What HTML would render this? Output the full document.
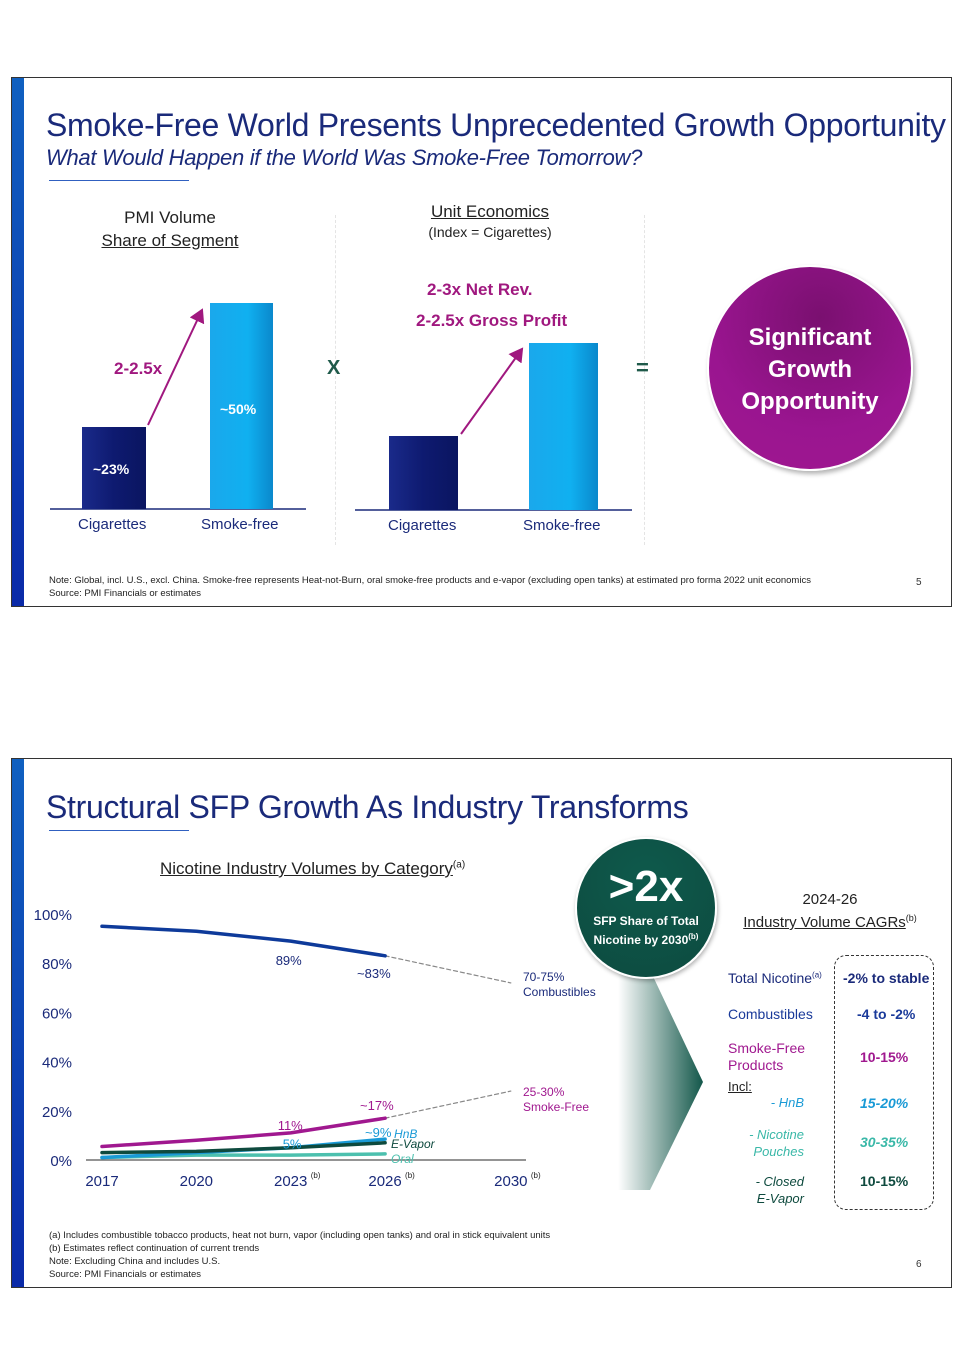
<!DOCTYPE html>
<html><head><meta charset="utf-8">
<style>
body{margin:0;width:965px;height:1365px;background:#fff;position:relative;font-family:"Liberation Sans",sans-serif;overflow:hidden}
.a{position:absolute;white-space:nowrap}
.slide{position:absolute;left:11px;width:941px;border:1px solid #333;background:#fff;box-sizing:border-box}
.stripe{position:absolute;left:0;top:0;bottom:0;width:12px;background:linear-gradient(#1060c0,#0a2aa8)}
.c{text-align:center}
</style></head><body>

<!-- Slide 1 -->
<div class="slide" style="top:77px;height:530px">
<div class="stripe"></div>
</div>
<div class="a" style="left:46px;top:107px;font-size:32px;color:#1a2a7a;letter-spacing:-0.3px">Smoke-Free World Presents Unprecedented Growth Opportunity</div>
<div class="a" style="left:46px;top:145px;font-size:22px;color:#1a2a7a;font-style:italic;letter-spacing:-0.3px">What Would Happen if the World Was Smoke-Free Tomorrow?</div>
<div class="a" style="left:49px;top:180px;width:140px;height:1px;background:#3060c0"></div>

<div class="a c" style="left:70px;top:206px;width:200px;font-size:17px;color:#222;line-height:23px">PMI Volume<br><u>Share of Segment</u></div>
<div class="a c" style="left:390px;top:202px;width:200px;font-size:17px;color:#222;line-height:20px"><u>Unit Economics</u><br><span style="font-size:14px">(Index = Cigarettes)</span></div>

<div class="a" style="left:335px;top:215px;height:330px;border-left:1px dashed #e4e4e4"></div>
<div class="a" style="left:644px;top:215px;height:330px;border-left:1px dashed #e4e4e4"></div>

<svg class="a" style="left:0;top:0" width="965" height="620">
<defs>
<linearGradient id="dk" x1="0" x2="1"><stop offset="0" stop-color="#1a2a8a"/><stop offset="0.5" stop-color="#0e1a70"/><stop offset="1" stop-color="#0a1560"/></linearGradient>
<linearGradient id="lt" x1="0" x2="1"><stop offset="0" stop-color="#1aa8ec"/><stop offset="0.6" stop-color="#10b0f0"/><stop offset="1" stop-color="#0a88cc"/></linearGradient>
<marker id="ah" markerWidth="8" markerHeight="8" refX="6" refY="4" orient="auto"><path d="M0,0 L7,4 L0,8 Z" fill="#a0187f"/></marker>
</defs>
<line x1="50" y1="509" x2="306" y2="509" stroke="#1a2a7a" stroke-width="1.5"/>
<rect x="82" y="427" width="64" height="82" fill="url(#dk)"/>
<rect x="210" y="303" width="63" height="206" fill="url(#lt)"/>
<line x1="148" y1="425" x2="202" y2="310" stroke="#a0187f" stroke-width="2" marker-end="url(#ah)"/>
<line x1="355" y1="510" x2="632" y2="510" stroke="#1a2a7a" stroke-width="1.5"/>
<rect x="389" y="436" width="69" height="74" fill="url(#dk)"/>
<rect x="529" y="343" width="69" height="167" fill="url(#lt)"/>
<line x1="461" y1="434" x2="522" y2="349" stroke="#a0187f" stroke-width="2" marker-end="url(#ah)"/>
</svg>
<div class="a" style="left:93px;top:461px;font-size:14px;font-weight:bold;color:#fff">~23%</div>
<div class="a" style="left:220px;top:401px;font-size:14px;font-weight:bold;color:#fff">~50%</div>
<div class="a" style="left:114px;top:359px;font-size:17px;font-weight:bold;color:#a0187f">2-2.5x</div>
<div class="a" style="left:427px;top:280px;font-size:17px;font-weight:bold;color:#a0187f">2-3x Net Rev.</div>
<div class="a" style="left:416px;top:311px;font-size:17px;font-weight:bold;color:#a0187f">2-2.5x Gross Profit</div>
<div class="a" style="left:327px;top:357px;font-size:20px;font-weight:bold;color:#1f5a4a">X</div>
<div class="a" style="left:636px;top:355px;font-size:22px;font-weight:bold;color:#1f5a4a">=</div>
<div class="a" style="left:78px;top:516px;font-size:15px;color:#1a2a7a">Cigarettes</div>
<div class="a" style="left:201px;top:516px;font-size:15px;color:#1a2a7a">Smoke-free</div>
<div class="a" style="left:388px;top:517px;font-size:15px;color:#1a2a7a">Cigarettes</div>
<div class="a" style="left:523px;top:517px;font-size:15px;color:#1a2a7a">Smoke-free</div>
<div class="a c" style="left:707px;top:265px;width:206px;height:206px;border-radius:50%;background:radial-gradient(circle at 55% 25%,#7a1070,#9a1590 60%,#a0188f);box-shadow:2px 3px 5px rgba(0,0,0,0.3);border:2px solid #fff;box-sizing:border-box;color:#fff;font-weight:bold;font-size:24px;line-height:32px;padding-top:55px">Significant<br>Growth<br>Opportunity</div>
<div class="a" style="left:49px;top:574px;font-size:9.5px;color:#222;line-height:13px">Note: Global, incl. U.S., excl. China. Smoke-free represents Heat-not-Burn, oral smoke-free products and e-vapor (excluding open tanks) at estimated pro forma 2022 unit economics<br>Source: PMI Financials or estimates</div>
<div class="a" style="left:916px;top:577px;font-size:10px;color:#333">5</div>

<!-- Slide 2 -->
<div class="slide" style="top:758px;height:530px">
<div class="stripe"></div>
</div>
<div class="a" style="left:46px;top:789px;font-size:32px;color:#1a2a7a;letter-spacing:-0.3px">Structural SFP Growth As Industry Transforms</div>
<div class="a" style="left:49px;top:830px;width:140px;height:1px;background:#3060c0"></div>
<div class="a" style="left:160px;top:859px;font-size:17px;color:#222"><u>Nicotine Industry Volumes by Category</u><sup style="font-size:10px">(a)</sup></div>

<svg id="chart" class="a" style="left:0;top:880px" width="620" height="330"></svg>

<!-- arrow chevron -->
<svg class="a" style="left:600px;top:970px" width="110" height="225">
<defs><linearGradient id="gr" x1="0" x2="1"><stop offset="0" stop-color="#fff"/><stop offset="1" stop-color="#13574a"/></linearGradient></defs>
<polygon points="18,0 50,0 103,112 50,220 18,220" fill="url(#gr)"/>
</svg>
<div class="a c" style="left:575px;top:837px;width:142px;height:142px;border-radius:50%;background:radial-gradient(circle at 50% 30%,#0e5a4c,#0d4a3f);border:2px solid #fff;box-shadow:1px 2px 4px rgba(0,0,0,0.3);box-sizing:border-box;color:#fff">
<div style="font-size:44px;font-weight:bold;margin-top:26px;line-height:44px">&gt;2x</div>
<div style="font-size:12px;font-weight:bold;line-height:16px;margin-top:4px">SFP Share of Total<br>Nicotine by 2030<sup style="font-size:8px">(b)</sup></div>
</div>

<div class="a c" style="left:720px;top:890px;width:220px;font-size:15px;color:#222;line-height:19px">2024-26<br><u>Industry Volume CAGRs</u><sup style="font-size:9px">(b)</sup></div>
<div class="a" style="left:834px;top:955px;width:100px;height:255px;border:1px dashed #333;border-radius:12px;box-sizing:border-box"></div>
<div class="a" style="left:728px;top:970px;font-size:14px;color:#1a2a7a">Total Nicotine<sup style="font-size:8px">(a)</sup></div>
<div class="a" style="left:843px;top:970px;font-size:14px;font-weight:bold;color:#1a2a7a">-2% to stable</div>
<div class="a" style="left:728px;top:1006px;font-size:14px;color:#1a3a9a">Combustibles</div>
<div class="a" style="left:857px;top:1006px;font-size:14px;font-weight:bold;color:#1a3a9a">-4 to -2%</div>
<div class="a" style="left:728px;top:1040px;font-size:14px;color:#a0188f;line-height:17px">Smoke-Free<br>Products</div>
<div class="a" style="left:860px;top:1049px;font-size:14px;font-weight:bold;color:#a0188f">10-15%</div>
<div class="a" style="left:728px;top:1079px;font-size:13px;color:#222;text-decoration:underline">Incl:</div>
<div class="a" style="left:770px;top:1095px;width:34px;text-align:right;font-size:13px;font-style:italic;color:#1a9ad6">- HnB</div>
<div class="a" style="left:860px;top:1095px;font-size:14px;font-weight:bold;font-style:italic;color:#1a9ad6">15-20%</div>
<div class="a" style="left:730px;top:1126px;width:74px;text-align:right;font-size:13px;font-style:italic;color:#3ab8a8;line-height:17px">- Nicotine<br>Pouches</div>
<div class="a" style="left:860px;top:1134px;font-size:14px;font-weight:bold;font-style:italic;color:#3ab8a8">30-35%</div>
<div class="a" style="left:730px;top:1173px;width:74px;text-align:right;font-size:13px;font-style:italic;color:#0e4a3e;line-height:17px">- Closed<br>E-Vapor</div>
<div class="a" style="left:860px;top:1173px;font-size:14px;font-weight:bold;color:#0e4a3e">10-15%</div>

<div class="a" style="left:49px;top:1229px;font-size:9.5px;color:#222;line-height:13px">(a) Includes combustible tobacco products, heat not burn, vapor (including open tanks) and oral in stick equivalent units<br>(b) Estimates reflect continuation of current trends<br>Note: Excluding China and includes U.S.<br>Source: PMI Financials or estimates</div>
<div class="a" style="left:916px;top:1259px;font-size:10px;color:#333">6</div>

<script>
const years = [2017, 2020, 2023, 2026];
const combustibles = [95, 93, 89, 83];
const smokeFree = [5.5, 8, 11, 17];
const hnb = [1, 3, 5, 8.5];
const eVapor = [3, 3.5, 5, 7];
const oral = [1, 2, 2, 2.5];
const combProj = [83, 72];
const sfpProj = [17, 28];
const projYears = [2026, 2030];
const yTicks = [0, 20, 40, 60, 80, 100];
const xTicks = [2017, 2020, 2023, 2026, 2030];
const xSup = ['', '', '(b)', '(b)', '(b)'];

const OY = 880;
function X(yr){ return 102 + (yr - 2017) * 31.45; }
function Y(v){ return (1160 - OY) - v * 2.46; }
const svg = document.getElementById('chart');
const NS = 'http://www.w3.org/2000/svg';
function mk(tag, attrs){ const e = document.createElementNS(NS, tag); for (const k in attrs) e.setAttribute(k, attrs[k]); svg.appendChild(e); return e; }

yTicks.forEach(t => {
  const e = mk('text', {x: 72, y: Y(t) + 6, 'text-anchor': 'end', 'font-size': 15, fill: '#1a2a7a', 'font-family': 'Liberation Sans'});
  e.textContent = t + '%';
  
  
});
const ax = mk('line', {x1: 86, x2: 526, y1: Y(0), y2: Y(0), stroke: '#555', 'stroke-width': 1.2});


xTicks.forEach((t, i) => {
  const e = mk('text', {x: X(t), y: Y(0) + 26, 'text-anchor': 'middle', 'font-size': 15, fill: '#1a2a7a', 'font-family': 'Liberation Sans'});
  e.textContent = t;
  
  
  if (xSup[i]) {
    const s = mk('text', {x: X(t) + 20, y: Y(0) + 18, 'font-size': 8, fill: '#222', 'font-family': 'Liberation Sans'});
    s.textContent = xSup[i];
    
    
  }
});
function line(vals, xs, color, w, name, dash){
  const d = vals.map((v, i) => (i ? 'L' : 'M') + X(xs[i]).toFixed(1) + ',' + Y(v).toFixed(1)).join(' ');
  const p = mk('path', {d: d, fill: 'none', stroke: color, 'stroke-width': w, 'stroke-linejoin': 'round', 'stroke-linecap': 'round'});
  if (dash) p.setAttribute('stroke-dasharray', dash);
  
  
}
line(combProj, projYears, '#888', 1.2, 'combustibles-projection', '4,3');
line(sfpProj, projYears, '#888', 1.2, 'smoke-free-projection', '4,3');
line(oral, years, '#4cc0ae', 3.5, 'oral-line');
line(hnb, years, '#1a9ad6', 3.5, 'hnb-line');
line(eVapor, years, '#0e4a3e', 3.5, 'e-vapor-line');
line(smokeFree, years, '#a0188f', 3.5, 'smoke-free-line');
line(combustibles, years, '#0e3a9a', 3.5, 'combustibles-line');

function lbl(txt, x, y, color, name, size, italic){
  const e = mk('text', {x: x, y: y, 'font-size': size || 13, fill: color, 'font-family': 'Liberation Sans', 'font-style': italic ? 'italic' : 'normal'});
  e.textContent = txt;
  
  
}
lbl(combustibles[2] + '%', X(2023) - 15, Y(combustibles[2]) + 24, '#1a2a7a', 'label-comb-2023');
lbl('~' + combustibles[3] + '%', X(2026) - 28, Y(combustibles[3]) + 22, '#1a2a7a', 'label-comb-2026');
lbl(smokeFree[2] + '%', X(2023) - 13, Y(smokeFree[2]) - 3, '#a0188f', 'label-sfp-2023');
lbl('~' + smokeFree[3] + '%', X(2026) - 25, Y(smokeFree[3]) - 8, '#a0188f', 'label-sfp-2026');
lbl(hnb[2] + '%', X(2023) - 8, Y(hnb[2]) + 1, '#1a9ad6', 'label-hnb-2023');
lbl('~9%', X(2026) - 20, Y(hnb[3]) - 2, '#1a9ad6', 'label-hnb-2026');
lbl('HnB', X(2026) + 9, Y(hnb[3]) - 1, '#1a9ad6', 'legend-hnb', 12, true);
lbl('E-Vapor', X(2026) + 6, Y(eVapor[3]) + 5, '#0e4a3e', 'legend-e-vapor', 12, true);
lbl('Oral', X(2026) + 6, Y(oral[3]) + 9, '#4cc0ae', 'legend-oral', 12, true);
lbl('70-75%', 523, Y(72) - 2, '#1a2a7a', 'proj-comb-value', 12);
lbl('Combustibles', 523, Y(72) + 13, '#1a2a7a', 'proj-comb-label', 12);
lbl('25-30%', 523, Y(28) + 5, '#a0188f', 'proj-sfp-value', 12);
lbl('Smoke-Free', 523, Y(28) + 20, '#a0188f', 'proj-sfp-label', 12);
</script>
</body></html>
